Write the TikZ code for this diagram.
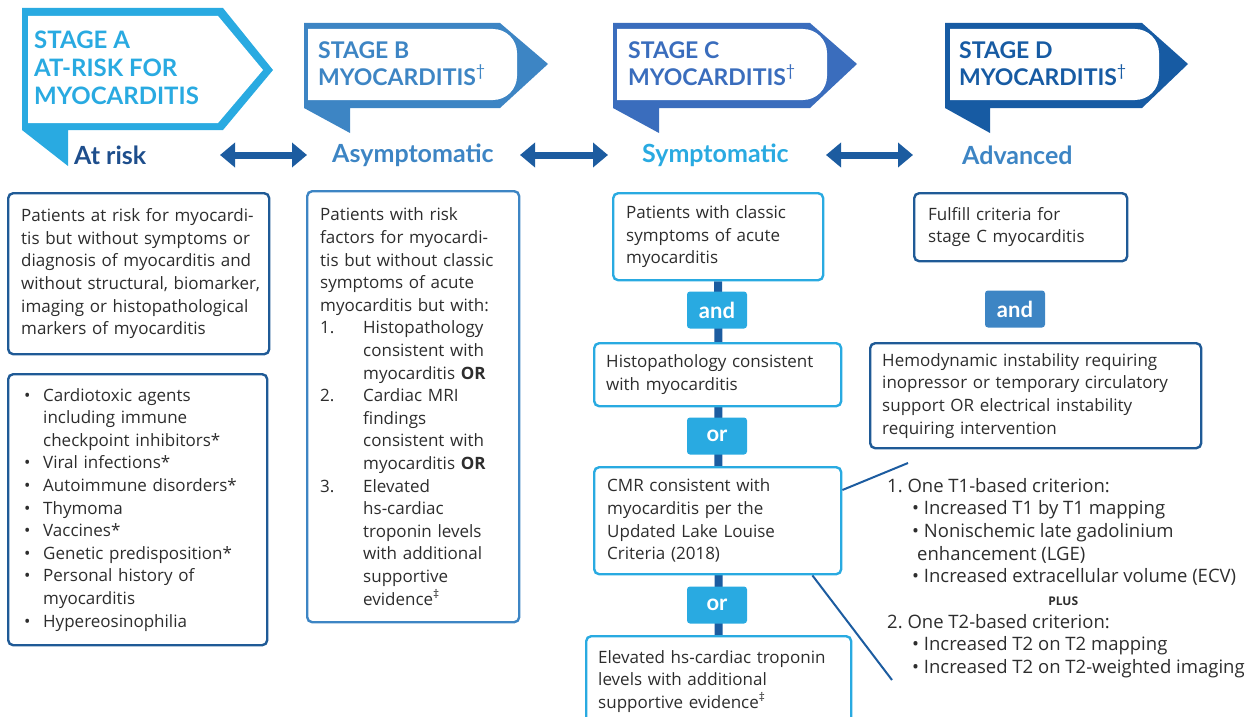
\documentclass[tikz,border=0pt]{standalone}
\usepackage{fontspec}
\setmainfont{Lato}
\newfontfamily\bodyfam{Open Sans}
\usetikzlibrary{arrows.meta,backgrounds,positioning}

\definecolor{stageA}{RGB}{41,170,225}
\definecolor{stageB}{RGB}{61,133,196}
\definecolor{stageC}{RGB}{58,109,189}
\definecolor{stageD}{RGB}{23,91,163}
\definecolor{navy}{RGB}{30,78,140}
\definecolor{arrowblue}{RGB}{28,92,160}
\definecolor{darkframe}{RGB}{31,90,150}
\definecolor{bodytxt}{RGB}{45,45,45}

\newcommand{\boxfont}{\bodyfam\fontsize{17}{22.6}\selectfont}
\newcommand{\blt}{\makebox[19pt][l]{\textbullet}}
\newcommand{\indA}{\hspace*{19pt}}
\newcommand{\indB}{\hspace*{43pt}}
\newcommand{\indC}{\hspace*{25pt}}

\begin{document}
\begin{tikzpicture}[x=1pt,y=-1pt,
    box/.style={draw=#1, line width=2.4pt, rounded corners=5pt, fill=white, anchor=north west,
        align=left, inner xsep=13pt, inner ysep=0pt, font=\boxfont, text=bodytxt},
    joint/.style={fill=#1, rounded corners=3pt, minimum width=60pt, minimum height=37pt,
        inner sep=0pt, text=white, font=\fontsize{22}{22}\selectfont\bfseries},
    dblarrow/.style={{Triangle[length=15pt,width=24pt]}-{Triangle[length=15pt,width=24pt]},
        line width=7pt, arrowblue},
    stagehead/.style={anchor=west, inner sep=0pt, align=left, font=\fontsize{23}{27}\selectfont\bfseries},
    stagelbl/.style={anchor=west, inner sep=0pt, font=\fontsize{25}{25}\selectfont\bfseries},
    spine/.style={line width=8pt, arrowblue},
    lead/.style={line width=2pt, arrowblue}]
    \useasboundingbox (0,0) rectangle (1255,717);

    % stage banners
    \fill[stageA] (22,8) -- (223,8) -- (273,70) -- (223,130) -- (68,130) -- (68,166) -- (22,130) -- cycle;
    \fill[white] (28,16) -- (218,16) -- (263,70) -- (218,123) -- (28,123) -- cycle;
    \node[stagehead, stageA, font=\fontsize{24}{28}\selectfont\bfseries] (headA) at (34,68)
        {STAGE A\\AT-RISK FOR\\MYOCARDITIS};

    \fill[stageB] (304,23) -- (500,23) -- (548,64) -- (500,108) -- (350,108) -- (350,133) -- (304,108) -- cycle;
    \fill[white] (308,100) -- (308,29) [rounded corners=24pt] -- (517,29) -- (517,100) [sharp corners] -- cycle;
    \node[stagehead, stageB] (headB) at (318,64) {STAGE B\\MYOCARDITIS\textsuperscript{\textmd{\textdagger}}};

    \fill[stageC] (613,23) -- (810,23) -- (857,64) -- (810,108) -- (659,108) -- (659,133) -- (613,108) -- cycle;
    \fill[white] (617,100) -- (617,29) [rounded corners=24pt] -- (827,29) -- (827,100) [sharp corners] -- cycle;
    \node[stagehead, stageC] (headC) at (628,64) {STAGE C\\MYOCARDITIS\textsuperscript{\textmd{\textdagger}}};

    \fill[stageD] (945,23) -- (1142,23) -- (1188,64) -- (1142,108) -- (990,108) -- (990,133) -- (945,108) -- cycle;
    \fill[white] (950,100) -- (950,29) [rounded corners=24pt] -- (1159,29) -- (1159,100) [sharp corners] -- cycle;
    \node[stagehead, stageD] (headD) at (959,64) {STAGE D\\MYOCARDITIS\textsuperscript{\textmd{\textdagger}}};

    % stage names
    \node[stagelbl, navy] (atrisk) at (74,155) {At risk};
    \node[stagelbl, stageB] (asym) at (332,155) {Asymptomatic};
    \node[stagelbl, stageA] (sympt) at (642,155) {Symptomatic};
    \node[stagelbl, stageB] (adv) at (962,155) {Advanced};

    \coordinate (abl) at (220,155); \coordinate (abr) at (307,155);
    \coordinate (bcl) at (520,155); \coordinate (bcr) at (608,155);
    \coordinate (cdl) at (826,155); \coordinate (cdr) at (913,155);
    \draw[dblarrow] (abl) -- (abr);
    \draw[dblarrow] (bcl) -- (bcr);
    \draw[dblarrow] (cdl) -- (cdr);

    % stage A
    \node[box=darkframe, text width=235pt, minimum height=161pt] (a1) at (7,192)
        {Patients at risk for myocardi-\\tis but without symptoms or\\diagnosis of myocarditis and\\
         \mbox{without structural, biomarker,}\\imaging or histopathological\\markers of myocarditis};
    \node[box=darkframe, inner xsep=16pt, text width=227pt, minimum height=271pt] (a2) at (7,373)
        {\blt Cardiotoxic agents\\\indA including immune\\\indA checkpoint inhibitors*\\
         \blt Viral infections*\\\blt Autoimmune disorders*\\\blt Thymoma\\\blt Vaccines*\\
         \blt Genetic predisposition*\\\blt Personal history of\\\indA myocarditis\\
         \blt Hypereosinophilia};

    % stage B
    \node[box=stageB, text width=186pt, minimum height=431pt] (b1) at (306,190)
        {Patients with risk\\factors for myocardi-\\tis but without classic\\symptoms of acute\\
         myocarditis but with:\\
         \makebox[43pt][l]{1.}Histopathology\\\indB consistent with\\\indB myocarditis \textbf{OR}\\
         \makebox[43pt][l]{2.}Cardiac MRI\\\indB findings\\\indB consistent with\\\indB myocarditis \textbf{OR}\\
         \makebox[43pt][l]{3.}Elevated\\\indB hs-cardiac\\\indB troponin levels\\\indB with additional\\
         \indB supportive\\\indB evidence\textsuperscript{\textdaggerdbl}};

    % stage C
    \node[box=stageA, text width=184pt, minimum height=87pt] (c1) at (612,192)
        {Patients with classic\\symptoms of acute\\myocarditis};
    \node[joint=stageA] (and1) at (717,310) {and};
    \node[box=stageA, inner xsep=12pt, text width=223pt, minimum height=63pt] (c2) at (593,342)
        {Histopathology consistent\\with myocarditis};
    \node[joint=stageA] (or1) at (717,436) {or};
    \node[box=stageA, text width=221pt, minimum height=107pt] (c3) at (593,466)
        {CMR consistent with\\myocarditis per the\\Updated Lake Louise\\Criteria (2018)};
    \node[joint=stageA] (or2) at (717,605) {or};
    \node[box=stageA, inner xsep=12pt, text width=241pt, minimum height=90pt] (c4) at (585,635)
        {Elevated hs-cardiac troponin\\levels with additional\\supportive evidence\textsuperscript{\textdaggerdbl}};
    \begin{scope}[on background layer]
        \draw[spine] (c1.south) -- (c4.north);
    \end{scope}

    % stage D
    \node[box=darkframe, inner xsep=14pt, text width=185pt, minimum height=68pt] (d1) at (913,192)
        {Fulfill criteria for\\stage C myocarditis};
    \node[joint=stageB] (and2) at (1015,309) {and};
    \node[box=darkframe, inner xsep=12pt, text width=307pt, minimum height=105pt] (d2) at (869,342)
        {Hemodynamic instability requiring\\inopressor or temporary circulatory\\
         support OR electrical instability\\requiring intervention};

    % CMR criteria
    \node[anchor=west, align=left, inner sep=0pt, font=\bodyfam\fontsize{18.5}{22.7}\selectfont, text=bodytxt] (crit) at (887,578)
        {1.~One T1-based criterion:\\
         \indC\textbullet~Increased T1 by T1 mapping\\
         \indC\textbullet~Nonischemic late gadolinium\\
         \hspace*{30pt}enhancement (LGE)\\
         \indC\textbullet~Increased extracellular volume (ECV)\\
         \makebox[352pt][c]{\fontsize{12}{12}\selectfont\bfseries PLUS}\\
         2.~One T2-based criterion:\\
         \indC\textbullet~Increased T2 on T2 mapping\\
         \indC\textbullet~Increased T2 on T2-weighted imaging};
    \coordinate (critup) at (908,463);
    \coordinate (critdown) at (892,680);
    \draw[lead] ([yshift=-24pt]c3.north east) -- (critup);
    \draw[lead] ([xshift=-30pt]c3.south east) -- (critdown);

\end{tikzpicture}
\end{document}
